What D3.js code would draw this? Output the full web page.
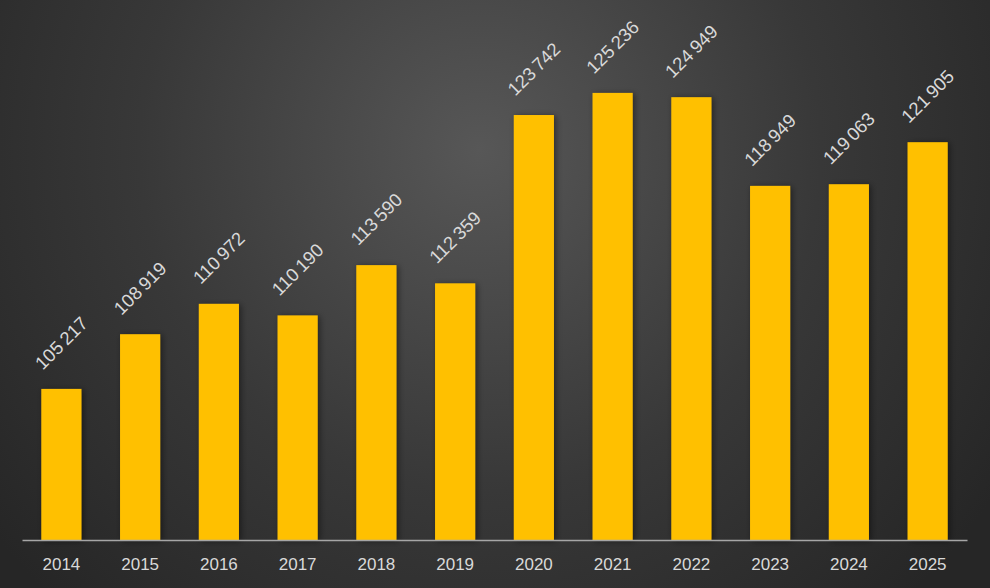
<!DOCTYPE html>
<html><head><meta charset="utf-8">
<script src="https://cdn.jsdelivr.net/npm/d3@7"></script>
<style>html,body{margin:0;padding:0;background:#2b2b2b;}svg{display:block;}</style>
</head><body>
<svg id="chart" width="990" height="588"></svg>
<script>
const years = ["2014","2015","2016","2017","2018","2019","2020","2021","2022","2023","2024","2025"];
const values = [105217,108919,110972,110190,113590,112359,123742,125236,124949,118949,119063,121905];
const yDomain = [95000, 130000];

const W = 990, H = 588;
const svg = d3.select("#chart");
const defs = svg.append("defs");
const rg = defs.append("radialGradient").attr("id","bg")
  .attr("gradientUnits","userSpaceOnUse")
  .attr("cx",480).attr("cy",150).attr("r",620);
rg.append("stop").attr("offset","0%").attr("stop-color","#575757");
rg.append("stop").attr("offset","55%").attr("stop-color","#383838");
rg.append("stop").attr("offset","100%").attr("stop-color","#262626");
const f = defs.append("filter").attr("id","sh").attr("x","-30%").attr("y","-10%").attr("width","160%").attr("height","130%");
f.append("feDropShadow").attr("dx",2).attr("dy",1).attr("stdDeviation",3).attr("flood-color","#000").attr("flood-opacity",0.45);

svg.append("rect").attr("width",W).attr("height",H).attr("fill","url(#bg)");

const x = d3.scaleBand().domain(years).range([22, 967]).paddingInner(0.49).paddingOuter(0.245);
const y = d3.scaleLinear().domain(yDomain).range([540, 22.5]);
const fmt = d3.formatLocale({decimal:",", thousands:"\u2009", grouping:[3], currency:["",""]}).format(",d");

svg.append("g").selectAll("rect").data(values).join("rect")
  .attr("x",(d,i)=>x(years[i]))
  .attr("y",d=>y(d))
  .attr("width",x.bandwidth())
  .attr("height",d=>540-y(d))
  .attr("fill","#FFC000")
  .attr("filter","url(#sh)");

const ax = svg.append("g").attr("transform","translate(0,540)")
  .call(d3.axisBottom(x).tickSize(0).tickPadding(18));
ax.select(".domain").attr("stroke","#a6a6a6").attr("stroke-width",1.5);
ax.selectAll("text").attr("fill","#d9d9d9").attr("font-size",17).attr("font-family","'Liberation Sans', Arial, sans-serif");

svg.append("g").selectAll("text").data(values).join("text")
  .attr("transform",(d,i)=>`translate(${x(years[i])+x.bandwidth()/2},${y(d)-46}) rotate(-45)`)
  .attr("text-anchor","middle").attr("dy","0.35em")
  .attr("fill","#d9d9d9").attr("font-size",18.5)
  .attr("font-family","'Liberation Sans', Arial, sans-serif")
  .text(d=>fmt(d));
</script>
</body></html>
